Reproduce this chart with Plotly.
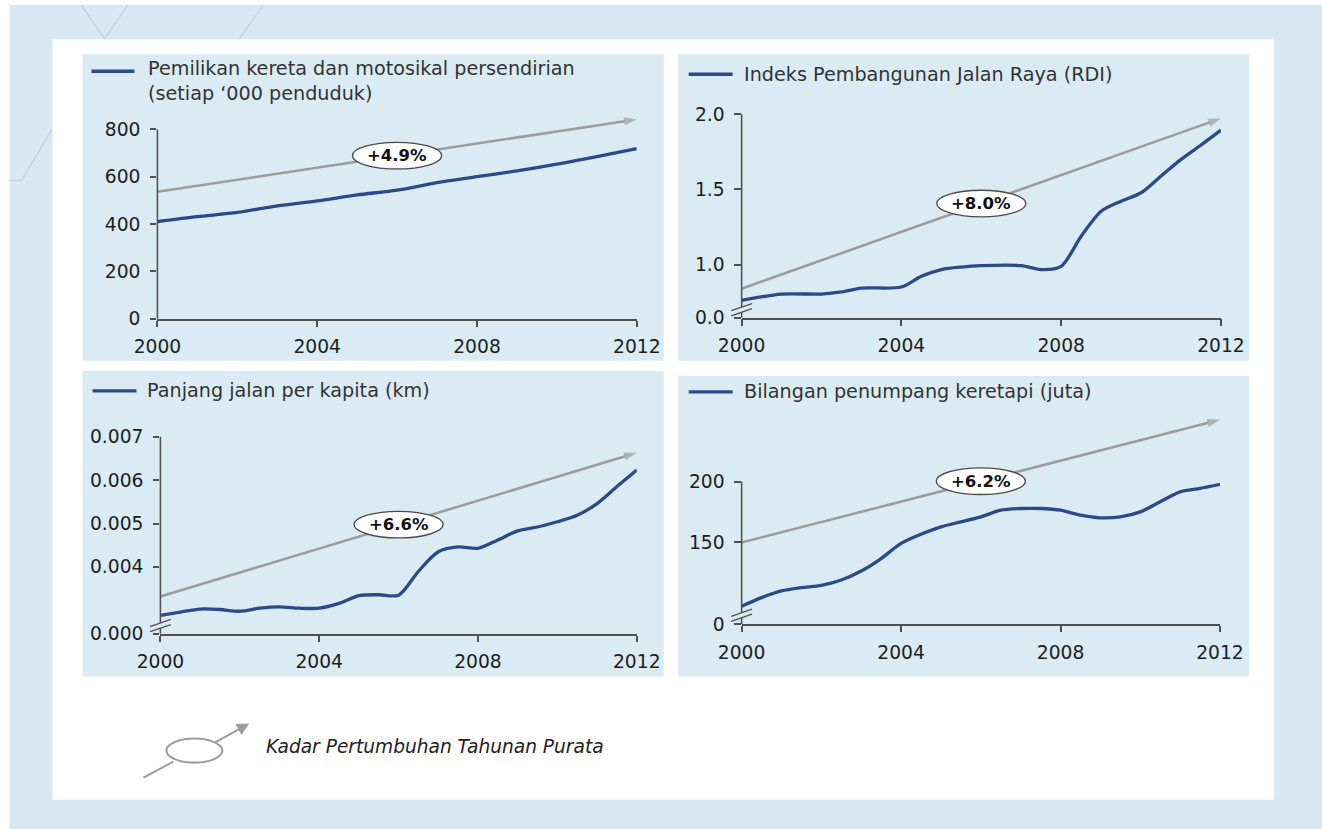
import plotly.graph_objects as go

# Page is photographed with a slight shrink about its centre; geometry below is given in
# target-picture pixels and mapped back to page pixels with the measured factors.
W, H = 1322, 829
SX, TX = 0.965, 22.4
SY, TY = 0.9775, 6.9
S = (SX + SY) / 2

# ---------------- data ----------------
years = [2000, 2001, 2002, 2003, 2004, 2005, 2006, 2007, 2008, 2009, 2010, 2011, 2012]
car_moto = [410, 431, 449, 477, 498, 523, 543, 575, 600, 625, 653, 685, 719]

rdi_years = [2000, 2001, 2002, 2002.5, 2003, 2004, 2004.5, 2005, 2005.5, 2006, 2007,
             2007.5, 2008, 2008.5, 2009, 2009.5, 2010, 2010.5, 2011, 2011.5, 2012]
rdi = [0.762, 0.804, 0.804, 0.818, 0.844, 0.851, 0.922, 0.967, 0.984, 0.993, 0.993,
       0.967, 0.989, 1.189, 1.355, 1.422, 1.478, 1.589, 1.700, 1.796, 1.895]

half_years = [2000, 2000.5, 2001, 2001.5, 2002, 2002.5, 2003, 2003.5, 2004, 2004.5,
              2005, 2005.5, 2006, 2006.5, 2007, 2007.5, 2008, 2008.5, 2009, 2009.5,
              2010, 2010.5, 2011, 2011.5, 2012]
road_km = [0.002885, 0.00296, 0.00303, 0.00302, 0.00298, 0.00305, 0.00308, 0.00305,
           0.00305, 0.00316, 0.00334, 0.00336, 0.00335, 0.00390, 0.00435, 0.00446,
           0.00443, 0.00462, 0.00483, 0.00492, 0.00504, 0.00519, 0.00546, 0.00585, 0.00623]
rail_pax = [97.5, 104.6, 110.1, 112.8, 114.7, 119.1, 126.5, 136.8, 149.2, 156.8,
            162.9, 167.0, 171.1, 176.6, 178.0, 178.0, 176.6, 172.5, 170.3, 171.1,
            175.2, 183.5, 191.7, 194.5, 197.8]

titles = ["Pemilikan kereta dan motosikal persendirian<br>(setiap ‘000 penduduk)",
          "Indeks Pembangunan Jalan Raya (RDI)",
          "Panjang jalan per kapita (km)",
          "Bilangan penumpang keretapi (juta)"]
growth_labels = ["+4.9%", "+8.0%", "+6.6%", "+6.2%"]
trend_start = [536, 0.84, 0.00332, 150]
trend_end = [842, 1.973, 0.00663, 251]

x_ticks = [2000, 2004, 2008, 2012]
y_tickvals = [[0, 200, 400, 600, 800],
              [0.647, 1.0, 1.5, 2.0],
              [0.00246, 0.004, 0.005, 0.006, 0.007],
              [82.7, 150, 200]]
y_ticktext = [["0", "200", "400", "600", "800"],
              ["0.0", "1.0", "1.5", "2.0"],
              ["0.000", "0.004", "0.005", "0.006", "0.007"],
              ["0", "150", "200"]]
legend_note = "Kadar Pertumbuhan Tahunan Purata"

series_x = [years, rdi_years, half_years, half_years]
series_y = [car_moto, rdi, road_km, rail_pax]

# ---------------- layout / style ----------------
BLUE = "#2c4a8a"
GREY = "#9c9c9c"
AX = "#505050"
PANEL = "#daebf4"
OUTER = "#d6e9f3"
DECO = "#c4cfe9"
FONT = "DejaVu Sans"

geo = [
    dict(xpx=(156, 636), yref=((0, 319), (800, 130)), rng=[0, 870], brk=None,
         panel=(81, 55, 663, 361), sw=(90, 133, 72), tx=(145, 82)),
    dict(xpx=(741, 1221), yref=((1.0, 265), (2.0, 115)), rng=[0.647, 2.05], brk=0.70,
         panel=(677, 55, 1249, 361), sw=(688, 732, 75), tx=(741, 75)),
    dict(xpx=(159, 636), yref=((0.004, 566.7), (0.007, 436.7)), rng=[0.00246, 0.0071], brk=0.00265,
         panel=(81, 371, 663, 676), sw=(91, 135, 391), tx=(144, 391)),
    dict(xpx=(741, 1220), yref=((150, 542.3), (200, 481.7)), rng=[82.7, 262], brk=90.1,
         panel=(677, 376, 1249, 676), sw=(688, 732, 392), tx=(741, 392)),
]


def fx(r):
    return ((r - TX) / SX) / W


def fy(r):
    return 1 - ((r - TY) / SY) / H


def ydomain(ref, rng):
    (v1, p1), (v2, p2) = ref
    k = (p1 - p2) / (v2 - v1)
    plo = p1 + (v1 - rng[0]) * k
    phi = p1 - (rng[1] - v1) * k
    return [fy(plo), fy(phi)]


def ux(v):
    return v / SX


def uy(v):
    return v / SY


fig = go.Figure()
shapes = []
annotations = []

# background
shapes.append(dict(type="rect", xref="paper", yref="paper", x0=fx(8), x1=fx(1340), y0=fy(850), y1=fy(6),
                   fillcolor=OUTER, line=dict(width=0), layer="below"))
for (a, b, c, d) in [(80, 6, 103, 40), (126, 6, 103, 40), (262, 6, 238, 40),
                     (8, 181, 20, 181), (20, 181, 51, 129)]:
    shapes.append(dict(type="line", xref="paper", yref="paper", x0=fx(a), y0=fy(b), x1=fx(c), y1=fy(d),
                       line=dict(color=DECO, width=1.5 / S), layer="below"))
shapes.append(dict(type="rect", xref="paper", yref="paper", x0=fx(51), x1=fx(1274), y0=fy(799), y1=fy(40),
                   fillcolor="white", line=dict(width=0), layer="below"))

layout_axes = {}
for i, g in enumerate(geo):
    n = "" if i == 0 else str(i + 1)
    xa, ya = "x" + n, "y" + n
    l, t, r, b = g["panel"]
    shapes.append(dict(type="rect", xref="paper", yref="paper", x0=fx(l), x1=fx(r), y0=fy(b), y1=fy(t),
                       fillcolor=PANEL, line=dict(width=0), layer="below"))

    layout_axes["xaxis" + n] = dict(
        domain=[fx(g["xpx"][0]), fx(g["xpx"][1])], range=[years[0], years[-1]], anchor=ya,
        tickmode="array", tickvals=x_ticks, ticktext=[str(v) for v in x_ticks],
        ticks="outside", ticklen=uy(6), tickwidth=1.5 / S, tickcolor=AX,
        showline=True, linecolor=AX, linewidth=1.5 / S, showgrid=False, zeroline=False,
        tickfont=dict(family=FONT, size=18.7, color="#1e1e1e"), ticklabelstandoff=4, fixedrange=True)
    layout_axes["yaxis" + n] = dict(
        domain=ydomain(g["yref"], g["rng"]), range=g["rng"], anchor=xa,
        tickmode="array", tickvals=y_tickvals[i], ticktext=y_ticktext[i],
        ticks="outside", ticklen=ux(6), tickwidth=1.5 / S, tickcolor=AX,
        showline=False, showgrid=False, zeroline=False,
        tickfont=dict(family=FONT, size=18.7, color="#1e1e1e"), ticklabelstandoff=6, fixedrange=True)

    # trend arrow
    fig.add_trace(go.Scatter(
        x=[years[0], years[-1]], y=[trend_start[i], trend_end[i]], mode="lines+markers",
        line=dict(color=GREY, width=2.5 / S),
        marker=dict(symbol="arrow", size=[0, 13 / S], angleref="previous", color=GREY, line=dict(width=0)),
        cliponaxis=False, xaxis=xa, yaxis=ya, hoverinfo="skip", showlegend=False))
    # series
    fig.add_trace(go.Scatter(
        x=series_x[i], y=series_y[i], mode="lines", name=titles[i].replace("<br>", " "),
        line=dict(color=BLUE, width=3.2 / S, shape="spline", smoothing=0.8),
        xaxis=xa, yaxis=ya, showlegend=False))

    # y axis line up to top tick
    shapes.append(dict(type="line", xref=xa + " domain", yref=ya, x0=0, x1=0,
                       y0=g["rng"][0], y1=y_tickvals[i][-1], line=dict(color=AX, width=1.5 / S), layer="above"))
    # axis break
    if g["brk"] is not None:
        common = dict(type="path", xref=xa + " domain", yref=ya, xsizemode="pixel", ysizemode="pixel",
                      xanchor=0, yanchor=g["brk"], layer="above")
        a, c1, c2, c3 = ux(10), uy(6), uy(1), uy(6)
        shapes.append(dict(common, path=f"M{-a:.2f},{-c1:.2f} L{a:.2f},{c2:.2f} L{a:.2f},{c3:.2f} L{-a:.2f},{-c2:.2f} Z",
                           fillcolor=PANEL, line=dict(width=0)))
        shapes.append(dict(common, path=f"M{-a:.2f},{-c1:.2f} L{a:.2f},{c2:.2f}", line=dict(color=AX, width=1.3 / S)))
        shapes.append(dict(common, path=f"M{-a:.2f},{-c2:.2f} L{a:.2f},{c3:.2f}", line=dict(color=AX, width=1.3 / S)))

    # growth label ellipse
    xm = (years[0] + years[-1]) / 2
    ym = (trend_start[i] + trend_end[i]) / 2
    shapes.append(dict(type="circle", xref=xa, yref=ya, xsizemode="pixel", ysizemode="pixel",
                       xanchor=xm, yanchor=ym, x0=-ux(43), x1=ux(43), y0=-uy(13), y1=uy(13),
                       fillcolor="white", line=dict(color="#4a4a4a", width=1.3 / S), layer="above"))
    annotations.append(dict(x=xm, y=ym, xref=xa, yref=ya, text="<b>" + growth_labels[i] + "</b>",
                            showarrow=False, font=dict(family=FONT, size=16.5, color="#111111")))

    # legend swatch + title
    s0, s1, sy = g["sw"]
    shapes.append(dict(type="line", xref="paper", yref="paper", x0=fx(s0), x1=fx(s1), y0=fy(sy), y1=fy(sy),
                       line=dict(color=BLUE, width=3.2 / S), layer="above"))
    tx, ty = g["tx"]
    annotations.append(dict(x=fx(tx), y=fy(ty), xref="paper", yref="paper", xanchor="left", yanchor="middle",
                            align="left", text=titles[i], showarrow=False,
                            font=dict(family=FONT, size=19.2, color="#333333")))

# bottom legend for growth arrow
shapes.append(dict(type="line", xref="paper", yref="paper", x0=fx(142), y0=fy(777), x1=fx(172), y1=fy(761),
                   line=dict(color=GREY, width=2 / S), layer="above"))
shapes.append(dict(type="circle", xref="paper", yref="paper", x0=fx(165), x1=fx(221), y0=fy(762), y1=fy(738),
                   fillcolor="white", line=dict(color=GREY, width=2 / S), layer="above"))
annotations.append(dict(x=fx(248), y=fy(723), xref="paper", yref="paper", ax=-ux(34), ay=uy(19), text="",
                        showarrow=True, arrowhead=2, arrowsize=1.2, arrowwidth=2 / S, arrowcolor=GREY))
annotations.append(dict(x=fx(263), y=fy(746), xref="paper", yref="paper", xanchor="left", yanchor="middle",
                        text="<i>" + legend_note + "</i>", showarrow=False,
                        font=dict(family=FONT, size=18.6, color="#222222")))

fig.update_layout(
    width=W, height=H, margin=dict(l=0, r=0, t=0, b=0),
    paper_bgcolor="white", plot_bgcolor="rgba(0,0,0,0)",
    shapes=shapes, annotations=annotations, showlegend=False,
    **layout_axes)

fig.write_html("out.html", config=dict(displayModeBar=False),
               post_script="document.body.style.margin='0';document.body.style.overflow='hidden';")
